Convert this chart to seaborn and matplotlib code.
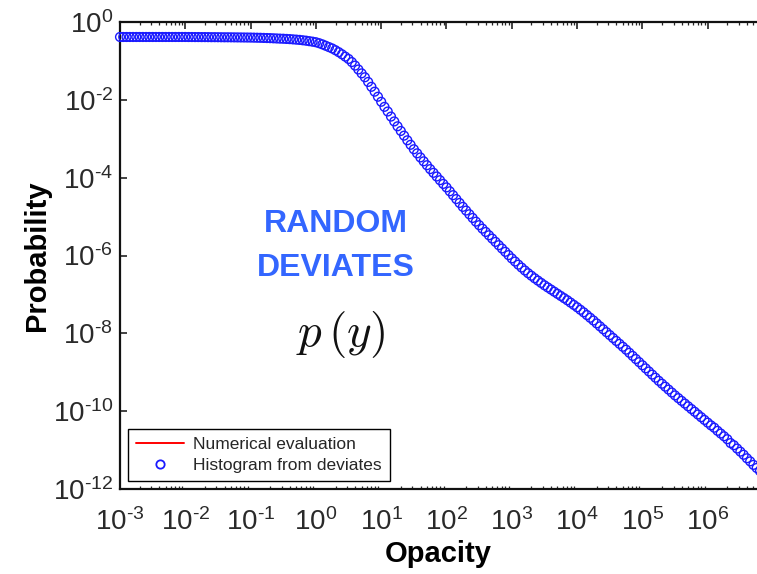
import numpy as np
import matplotlib
matplotlib.use("Agg")
import matplotlib.pyplot as plt
from matplotlib.lines import Line2D
from matplotlib.ticker import FixedLocator, LogLocator, FuncFormatter, NullLocator
import seaborn as sns

# Histogram bin centres: 20 bins per decade of opacity
opacity = np.logspace(-3.0, 6.8, 197)

# log10 of the histogram probability in each bin
log_probability = [
    -0.385, -0.385, -0.385, -0.385, -0.385, -0.385, -0.385, -0.385, -0.385, -0.385,
    -0.385, -0.385, -0.385, -0.385, -0.385, -0.385, -0.385, -0.385, -0.385, -0.385,
    -0.385, -0.386, -0.386, -0.387, -0.387, -0.388, -0.388, -0.389, -0.390, -0.390,
    -0.391, -0.392, -0.393, -0.393, -0.394, -0.395, -0.396, -0.397, -0.398, -0.399,
    -0.400, -0.402, -0.404, -0.406, -0.409, -0.412, -0.415, -0.419, -0.423, -0.427,
    -0.430, -0.435, -0.440, -0.447, -0.453,
    -0.460, -0.470, -0.480, -0.493, -0.506,
    -0.520, -0.545, -0.575, -0.610, -0.645,
    -0.680, -0.725, -0.775, -0.830, -0.890,
    -0.950, -1.030, -1.120, -1.220, -1.320,
    -1.420, -1.540, -1.665, -1.790, -1.920,
    -2.050, -2.180, -2.300, -2.430, -2.555,
    -2.680, -2.800, -2.920, -3.040, -3.155,
    -3.270, -3.375, -3.480, -3.580, -3.680,
    -3.780, -3.875, -3.970, -4.065, -4.160,
    -4.250, -4.350, -4.450, -4.550, -4.650,
    -4.750, -4.845, -4.940, -5.035, -5.130,
    -5.220, -5.310, -5.395, -5.480, -5.565,
    -5.650, -5.735, -5.820, -5.905, -5.990,
    -6.075, -6.155, -6.235, -6.310, -6.385,
    -6.455, -6.520, -6.585, -6.645, -6.705,
    -6.765, -6.820, -6.875, -6.930, -6.985,
    -7.040, -7.095, -7.150, -7.210, -7.270,
    -7.330, -7.395, -7.460, -7.530, -7.600,
    -7.670, -7.745, -7.820, -7.895, -7.970,
    -8.045, -8.120, -8.195, -8.270, -8.345,
    -8.420, -8.500, -8.580, -8.660, -8.740,
    -8.820, -8.900, -8.980, -9.060, -9.140,
    -9.220, -9.295, -9.370, -9.445, -9.520,
    -9.595, -9.665, -9.735, -9.805, -9.875,
    -9.945, -10.015, -10.085, -10.155, -10.225,
    -10.295, -10.365, -10.425, -10.505, -10.575,
    -10.645, -10.720, -10.820, -10.875, -10.960,
    -11.040, -11.120, -11.210, -11.290, -11.380,
    -11.460, -11.540,
]
probability = 10.0 ** np.asarray(log_probability)

y_tick_values = [1e0, 1e-2, 1e-4, 1e-6, 1e-8, 1e-10, 1e-12]
legend_labels = ["Numerical evaluation", "Histogram from deviates"]

sns.set_style("white")
plt.rcParams["font.family"] = ["Liberation Sans", "DejaVu Sans"]
plt.rcParams["mathtext.fontset"] = "custom"
plt.rcParams["mathtext.rm"] = "Liberation Sans"
plt.rcParams["mathtext.it"] = "Liberation Sans:italic"
plt.rcParams["mathtext.bf"] = "Liberation Sans:bold"

W, H = 757, 574
fig = plt.figure(figsize=(W / 100, H / 100), dpi=100)
ax = fig.add_axes([120 / W, 85 / H, 637 / W, 467 / H])

sns.scatterplot(
    x=opacity, y=probability, ax=ax, marker="o", s=40,
    facecolor="none", edgecolor="#1a1aff", linewidth=1.0,
    clip_on=False, zorder=3, legend=False,
)

ax.set_xscale("log")
ax.set_yscale("log")
ax.set_xlim(1e-3, 10 ** 6.755)
ax.set_ylim(1e-12, 1e0)

def pow_label(v, _pos):
    e = int(round(np.log10(v)))
    if e < 0:
        return r"$\mathregular{10^{\text{-}%d}}$" % (-e)
    return r"$\mathregular{10^{%d}}$" % e

ax.xaxis.set_major_locator(LogLocator(base=10, numticks=20))
ax.xaxis.set_minor_locator(LogLocator(base=10, subs=np.arange(2, 10), numticks=20))
ax.xaxis.set_major_formatter(FuncFormatter(pow_label))
ax.yaxis.set_major_locator(FixedLocator(y_tick_values))
ax.yaxis.set_minor_locator(NullLocator())
ax.yaxis.set_major_formatter(FuncFormatter(pow_label))

ax.tick_params(axis="both", which="major", direction="in", length=5, width=1.2,
               labelsize=20, colors="#222222", labelcolor="#2a2a2a")
ax.tick_params(axis="x", which="major", top=True, pad=14)
ax.tick_params(axis="x", which="minor", direction="in", length=2.5, width=0.9,
               top=True, bottom=True)
ax.tick_params(axis="y", which="major", pad=5, left=True, right=False)

for side in ("left", "bottom", "top"):
    ax.spines[side].set_linewidth(1.6)
    ax.spines[side].set_color("#111111")
ax.spines["right"].set_visible(False)

ax.set_xlabel("Opacity", fontsize=21, fontweight="bold", labelpad=3, color="black")
ax.set_ylabel("Probability", fontsize=21, fontweight="bold", labelpad=1, color="black")

# Annotation positions below are given in pixels from the top-left corner
ax.text(336, H - 224, "RANDOM", transform=None, fontsize=23, fontweight="bold",
        color="#3366ff", ha="center", va="center")
ax.text(336, H - 268, "DEVIATES", transform=None, fontsize=23, fontweight="bold",
        color="#3366ff", ha="center", va="center")
ax.text(341, H - 335, r"$p\,(y)$", transform=None, fontsize=34,
        math_fontfamily="cm", color="#111111", ha="center", va="center")

handles = [
    Line2D([], [], color="red", linewidth=1.4),
    Line2D([], [], linestyle="none", marker="o", markersize=6,
           markerfacecolor="none", markeredgecolor="#1a1aff", markeredgewidth=1.3),
]
leg = ax.legend(handles, legend_labels, loc="lower left",
                bbox_to_anchor=(8 / 637, 8 / 467), fontsize=12.5,
                frameon=True, fancybox=False, framealpha=1, edgecolor="black",
                handlelength=2.8, borderpad=0.45, labelspacing=0.35,
                handletextpad=0.5, borderaxespad=0)
leg.get_frame().set_linewidth(1.0)

fig.savefig("out.png", dpi=100)
